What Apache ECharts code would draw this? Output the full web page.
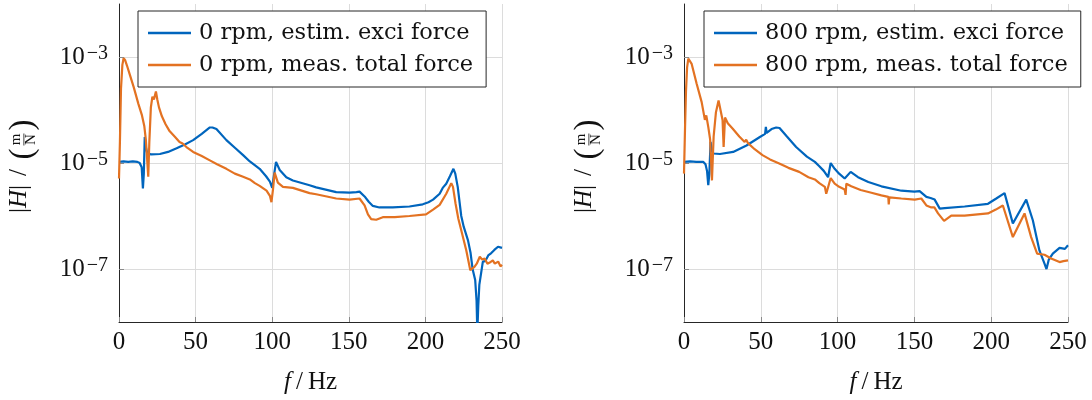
<!DOCTYPE html>
<html>
<head>
<meta charset="utf-8">
<script src="https://cdn.jsdelivr.net/npm/echarts@6/dist/echarts.min.js"></script>
<style>
html,body{margin:0;padding:0;background:#fff}
#main{width:1092px;height:400px}
</style>
</head>
<body>
<div id="main"></div>
<script>
// 0 rpm, estimated excitation force
var f0Exci = [0, 3, 6, 9, 12, 13.5, 14.8, 15.6, 16.2, 16.8, 17.5, 18.5, 21, 26.7, 32, 37.6, 43, 48.4, 54, 59.3, 61, 63.6, 70.1, 76, 81, 85.4, 91.8, 96, 98.5, 100, 100.8, 102.5, 104.9, 109.2, 113.5, 124.4, 128.7, 141.8, 150.5, 155, 157, 160.3, 163, 165.7, 170, 178.7, 189.6, 198.3, 202, 205, 209.3, 211.3, 213.6, 216, 218.3, 219.5, 221.1, 223.4, 225, 227.8, 229.5, 230.8, 232.5, 233.4, 233.9, 234.5, 235.2, 237.5, 239, 240, 241, 243, 245, 247.4, 250];
var v0Exci = [1.05e-5, 1.07e-5, 1.05e-5, 1.07e-5, 1.05e-5, 1.0e-5, 8.3e-6, 3.3e-6, 6.3e-6, 3.1e-5, 2.0e-5, 1.5e-5, 1.45e-5, 1.48e-5, 1.62e-5, 1.9e-5, 2.24e-5, 2.7e-5, 3.55e-5, 4.68e-5, 4.68e-5, 4.37e-5, 2.7e-5, 1.9e-5, 1.41e-5, 1.07e-5, 7.76e-6, 5.62e-6, 4.47e-6, 3.39e-6, 5.0e-6, 1.05e-5, 7.4e-6, 5.4e-6, 4.68e-6, 3.8e-6, 3.47e-6, 2.82e-6, 2.75e-6, 2.82e-6, 2.88e-6, 2.34e-6, 1.86e-6, 1.55e-6, 1.45e-6, 1.45e-6, 1.51e-6, 1.66e-6, 1.82e-6, 2.04e-6, 2.63e-6, 3.39e-6, 4.07e-6, 5.62e-6, 7.76e-6, 6.3e-6, 3.55e-6, 1.0e-6, 6.3e-7, 3.47e-7, 2.0e-7, 1.0e-7, 6.2e-8, 2.5e-8, 6.3e-9, 2.0e-8, 5.0e-8, 1.38e-7, 1.41e-7, 1.58e-7, 1.8e-7, 2.0e-7, 2.29e-7, 2.63e-7, 2.5e-7];

// 0 rpm, measured total force
var f0Meas = [0, 0.6, 1.3, 2.2, 3.0, 4, 5.2, 7, 9.6, 12.6, 15, 16.5, 17.5, 18.3, 19.1, 19.8, 20.8, 21.8, 22.8, 24.1, 25, 26.1, 28, 30.4, 33, 36.6, 39.5, 40.5, 41.5, 44, 48.4, 54, 59.3, 64, 70.1, 75.6, 81, 85.4, 88.7, 91.8, 96.3, 98.5, 99.5, 100.5, 101.6, 103.7, 107, 113.5, 124.4, 128.7, 141.8, 150.5, 157, 160.3, 162.5, 164.6, 167.9, 172.2, 180, 189.6, 200.4, 205, 209.3, 213.6, 216.9, 218, 219.7, 221.5, 223.4, 226.7, 229.3, 230.5, 232, 233.5, 235.5, 237, 238.7, 240.5, 242, 244, 245.3, 247.5, 249, 250];
var v0Meas = [5.1e-6, 2.5e-5, 2.5e-4, 7.1e-4, 9.5e-4, 8.7e-4, 6.9e-4, 4.7e-4, 2.7e-4, 1.32e-4, 7.9e-5, 5.0e-5, 2.8e-5, 1.26e-5, 5.5e-6, 2.5e-5, 1.12e-4, 1.78e-4, 1.58e-4, 2.24e-4, 1.58e-4, 1.12e-4, 7.6e-5, 5.4e-5, 4.0e-5, 3.1e-5, 2.5e-5, 2.7e-5, 2.34e-5, 2.0e-5, 1.62e-5, 1.35e-5, 1.12e-5, 9.5e-6, 7.76e-6, 6.3e-6, 5.5e-6, 4.9e-6, 4.17e-6, 3.7e-6, 3.0e-6, 2.4e-6, 1.82e-6, 3.16e-6, 6.6e-6, 4.27e-6, 3.55e-6, 3.39e-6, 2.7e-6, 2.57e-6, 2.14e-6, 2.04e-6, 2.14e-6, 1.58e-6, 1.07e-6, 8.7e-7, 8.5e-7, 9.5e-7, 9.5e-7, 1.0e-6, 1.07e-6, 1.32e-6, 1.62e-6, 2.63e-6, 4.17e-6, 3.55e-6, 1.7e-6, 8.9e-7, 5.4e-7, 2.24e-7, 9.5e-8, 8.9e-8, 1.1e-7, 1.26e-7, 1.7e-7, 1.51e-7, 1.58e-7, 1.26e-7, 1.32e-7, 1.45e-7, 1.26e-7, 1.38e-7, 1.12e-7, 1.2e-7];

// 800 rpm, estimated excitation force
var f800Exci = [0, 4, 8, 12.6, 14, 15, 15.8, 16.5, 17.3, 18, 19.1, 23.4, 32, 40.7, 49.4, 52.8, 53.3, 53.8, 57, 60, 62.2, 67, 73, 80, 85.2, 88.1, 91, 93.8, 95.5, 98.1, 101, 104.6, 108.5, 113.3, 120, 128.5, 141.5, 150, 153.4, 157.8, 160.5, 163.2, 166.5, 169.7, 182.7, 197.9, 203.3, 208.7, 214.1, 222.8, 227.1, 231.4, 234.7, 236, 237.5, 240.1, 244.5, 248, 250];
var v800Exci = [1.05e-5, 1.07e-5, 1.05e-5, 1.05e-5, 9.5e-6, 7.1e-6, 3.8e-6, 6.3e-6, 2.5e-5, 1.78e-5, 1.51e-5, 1.48e-5, 1.62e-5, 2.14e-5, 3.1e-5, 3.55e-5, 4.8e-5, 3.7e-5, 4.37e-5, 4.68e-5, 4.57e-5, 3.16e-5, 2.0e-5, 1.32e-5, 1.05e-5, 8.7e-6, 7.1e-6, 5.4e-6, 1.0e-5, 7.76e-6, 6.3e-6, 5.1e-6, 6.8e-6, 5.4e-6, 4.37e-6, 3.63e-6, 3.0e-6, 2.88e-6, 2.95e-6, 2.29e-6, 2.19e-6, 2.04e-6, 1.38e-6, 1.41e-6, 1.51e-6, 1.7e-6, 2.14e-6, 2.7e-6, 7.2e-7, 2.04e-6, 8.3e-7, 2.24e-7, 1.26e-7, 1.0e-7, 1.51e-7, 1.95e-7, 2.5e-7, 2.4e-7, 2.8e-7];

// 800 rpm, measured total force
var f800Meas = [0, 0.7, 1.3, 2.0, 2.8, 4, 5, 8.2, 11.5, 13.6, 14.5, 15.8, 17, 18.2, 19.3, 20.8, 22.5, 23.6, 25.1, 25.8, 26.7, 28.5, 31.6, 36, 39.5, 40.5, 41.5, 46, 51.1, 56, 62, 68, 75, 81, 85.2, 88.1, 91.7, 92.6, 93.4, 95.5, 98.1, 101, 104.6, 105.2, 105.7, 108.9, 115, 122, 128.5, 133, 133.3, 133.7, 141.5, 150.2, 154.5, 157.8, 161, 163, 165.4, 169.3, 174, 182.7, 197.9, 203, 207.6, 214.1, 221.7, 226, 229.9, 234.7, 239, 244.5, 247, 250];
var v800Meas = [6.3e-6, 5.0e-5, 2.3e-4, 6.3e-4, 9.3e-4, 8.7e-4, 7.4e-4, 3.16e-4, 1.41e-4, 6.5e-5, 7.9e-5, 4.8e-5, 2.8e-5, 4.7e-6, 3.16e-5, 9.1e-5, 1.51e-4, 1.62e-4, 6.5e-5, 2.0e-5, 7.2e-5, 5.6e-5, 4.47e-5, 3.16e-5, 2.5e-5, 2.75e-5, 2.4e-5, 1.82e-5, 1.41e-5, 1.17e-5, 9.8e-6, 8.1e-6, 6.8e-6, 5.4e-6, 4.9e-6, 4.17e-6, 3.55e-6, 2.63e-6, 3.16e-6, 5.2e-6, 4.07e-6, 3.55e-6, 3.16e-6, 2.5e-6, 4.07e-6, 3.63e-6, 3.1e-6, 2.75e-6, 2.45e-6, 2.3e-6, 1.66e-6, 2.24e-6, 2.14e-6, 2.04e-6, 2.14e-6, 1.58e-6, 1.45e-6, 1.45e-6, 1.12e-6, 8.1e-7, 1.02e-6, 1.02e-6, 1.12e-6, 1.32e-6, 1.58e-6, 4.0e-7, 1.12e-6, 4.0e-7, 1.95e-7, 1.86e-7, 1.58e-7, 1.35e-7, 1.41e-7, 1.45e-7];

var names0 = ['0 rpm, estim. exci force', '0 rpm, meas. total force'];
var names800 = ['800 rpm, estim. exci force', '800 rpm, meas. total force'];
var yTickValues = [1e-7, 1e-5, 1e-3];

var blue = '#0065BD';
var orange = '#E37222';
var serif = 'Liberation Serif';
var legendFont = 'DejaVu Serif';
var ink = '#111';

function pairs(f, v) {
	return f.map(function (x, i) { return [x, v[i]]; });
}

function xAxisOpt(idx) {
	return {
		type: 'value', gridIndex: idx, min: 0, max: 250, interval: 50,
		axisLine: { show: true, lineStyle: { color: '#262626', width: 1 } },
		axisTick: { show: true, inside: true, length: 5, lineStyle: { color: '#8a8a8a' } },
		axisLabel: { color: ink, fontFamily: serif, fontSize: 25, margin: 8 },
		splitLine: { show: true, lineStyle: { color: '#dcdcdc', width: 1 } },
		name: '{i|f}{n|\u2009/\u2009Hz}', nameLocation: 'middle', nameGap: 48,
		nameTextStyle: {
			rich: {
				i: { fontFamily: serif, fontStyle: 'italic', fontSize: 25, color: ink },
				n: { fontFamily: serif, fontSize: 25, color: ink }
			}
		}
	};
}

function yAxisOpt(idx) {
	return {
		type: 'log', gridIndex: idx, logBase: 10, min: 1e-8, max: 1e-2,
		axisLine: { show: true, lineStyle: { color: '#262626', width: 1 } },
		axisTick: { show: true, inside: true, length: 5, customValues: yTickValues, lineStyle: { color: '#8a8a8a' } },
		minorTick: { show: false },
		splitLine: { show: true, lineStyle: { color: '#dcdcdc', width: 1 } },
		axisLabel: {
			customValues: yTickValues, margin: 11,
			formatter: function (v) {
				var e = Math.round(Math.log10(v));
				return '{b|10}{e|\u2212' + (-e) + '}';
			},
			rich: {
				b: { fontFamily: serif, fontSize: 25, color: ink, lineHeight: 26 },
				e: { fontFamily: serif, fontSize: 20, color: ink, lineHeight: 15, verticalAlign: 'top', padding: [0, 0, 0, 2] }
			}
		}
	};
}

function legendOpt(names, left) {
	return {
		data: names, orient: 'vertical', left: left, top: 11,
		padding: [9, 13, 9, 10], itemGap: 6, itemWidth: 43, itemHeight: 2.4, icon: 'rect',
		backgroundColor: '#fff', borderColor: '#262626', borderWidth: 1, borderRadius: 0,
		textStyle: { fontFamily: legendFont, fontSize: 22.5, color: ink, lineHeight: 26, padding: [0, 0, 0, 3] },
		selectedMode: false
	};
}

function lineSeries(name, idx, color, f, v) {
	return {
		name: name, type: 'line', xAxisIndex: idx, yAxisIndex: idx,
		data: pairs(f, v), showSymbol: false, symbol: 'none',
		lineStyle: { color: color, width: 2.2 }, itemStyle: { color: color }
	};
}

// rotated label |H| / (m/N)
function yNameGraphic(cx, cy) {
	var txt = function (s, x, y, size, italic) {
		return {
			type: 'text', x: x, y: y,
			style: { text: s, fontFamily: serif, fontSize: size, fontStyle: italic ? 'italic' : 'normal', fill: ink, align: 'center', verticalAlign: 'middle' }
		};
	};
	return {
		type: 'group', x: cx, y: cy, rotation: Math.PI / 2,
		children: [
			{
				type: 'text', x: -32.5, y: -3,
				style: {
					text: '{n||}{i|H}{n||}', align: 'center', verticalAlign: 'middle',
					rich: {
						n: { fontFamily: serif, fontSize: 25, fill: ink },
						i: { fontFamily: serif, fontSize: 25, fontStyle: 'italic', fill: ink }
					}
				}
			},
			txt('/', -6, -3, 25, false),
			txt('(', 12.5, 1, 33, false),
			txt('m', 27, -5.5, 15, false),
			{ type: 'rect', shape: { x: 21, y: 1.5, width: 12, height: 0.8 }, style: { fill: ink } },
			txt('N', 27, 9.5, 15, false),
			txt(')', 41.5, 1, 33, false)
		]
	};
}

var chart = echarts.init(document.getElementById('main'));
chart.setOption({
	animation: false,
	backgroundColor: '#fff',
	grid: [
		{ left: 119, top: 4, width: 383, height: 318 },
		{ left: 684, top: 4, width: 384, height: 318 }
	],
	xAxis: [xAxisOpt(0), xAxisOpt(1)],
	yAxis: [yAxisOpt(0), yAxisOpt(1)],
	legend: [legendOpt(names0, 138), legendOpt(names800, 704)],
	series: [
		lineSeries(names0[0], 0, blue, f0Exci, v0Exci),
		lineSeries(names0[1], 0, orange, f0Meas, v0Meas),
		lineSeries(names800[0], 1, blue, f800Exci, v800Exci),
		lineSeries(names800[1], 1, orange, f800Meas, v800Meas)
	],
	graphic: [yNameGraphic(22, 166.5), yNameGraphic(587, 166.5)]
});
</script>
</body>
</html>
